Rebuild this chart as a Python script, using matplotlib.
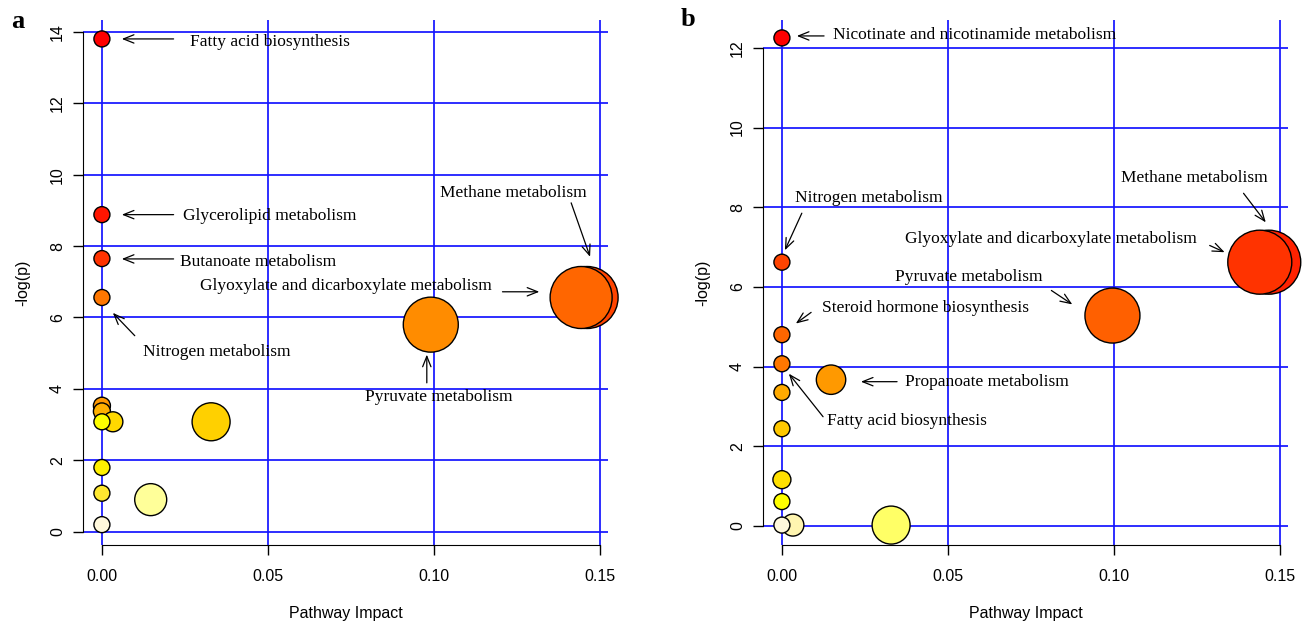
import matplotlib
matplotlib.use("Agg")
import matplotlib.pyplot as plt

# ---- data (panel a) ----
impact_a = [0, 0, 0, 0, 0.1462, 0.1444, 0.0991, 0, 0, 0.0033, 0, 0.0329, 0, 0, 0.0147, 0]
logp_a = [13.80, 8.88, 7.65, 6.56, 6.56, 6.56, 5.80, 3.53, 3.37, 3.08, 3.08, 3.08, 1.80, 1.08, 0.90, 0.20]
radius_a = [8, 8, 8, 8, 31, 31, 27.5, 8.5, 8.5, 10, 8, 19, 8, 8, 16, 8]
colors_a = ["#FF0000", "#FF1500", "#FF3300", "#FF7700", "#FF4400", "#FF6600", "#FF8C00",
            "#FF9900", "#FFB000", "#FFD800", "#FFFF00", "#FFD000", "#FFF000", "#FFE830",
            "#FFFF99", "#FFF8DC"]

# ---- data (panel b) ----
impact_b = [0, 0, 0.1467, 0.1440, 0.0996, 0, 0, 0.0148, 0, 0, 0, 0, 0.0033, 0, 0.0329]
logp_b = [12.25, 6.62, 6.62, 6.62, 5.28, 4.80, 4.07, 3.67, 3.35, 2.44, 1.16, 0.61, 0.02, 0.02, 0.02]
radius_b = [8, 8, 32, 32, 27.5, 8, 8, 14.7, 8, 8, 9, 8, 11, 8, 19]
colors_b = ["#FF0000", "#FF4400", "#FF2200", "#FF3300", "#FF6000", "#FF6600", "#FF7700",
            "#FF9900", "#FFAA00", "#FFC800", "#FFE000", "#FFFF00", "#FFF5B0", "#FFF8DC",
            "#FFFF66"]

# labels: text, (text x, y), ha, arrow tail, arrow head
labels_a = [
    ("Fatty acid biosynthesis", (0.0264, 13.72), "left", (0.0216, 13.80), (0.0060, 13.80)),
    ("Glycerolipid metabolism", (0.0243, 8.85), "left", (0.0216, 8.88), (0.0060, 8.88)),
    ("Butanoate metabolism", (0.0234, 7.56), "left", (0.0216, 7.64), (0.0060, 7.64)),
    ("Nitrogen metabolism", (0.0123, 5.04), "left", (0.0099, 5.49), (0.0033, 6.13)),
    ("Glyoxylate and dicarboxylate metabolism", (0.1174, 6.89), "right", (0.1207, 6.72), (0.1318, 6.72)),
    ("Methane metabolism", (0.1240, 9.49), "center", (0.1414, 9.21), (0.1471, 7.70)),
    ("Pyruvate metabolism", (0.1015, 3.78), "center", (0.0979, 4.17), (0.0979, 4.96)),
]
labels_b = [
    ("Nicotinate and nicotinamide metabolism", (0.0154, 12.33), "left", (0.0127, 12.30), (0.0045, 12.30)),
    ("Nitrogen metabolism", (0.0039, 8.23), "left", (0.0060, 7.85), (0.0009, 6.92)),
    ("Glyoxylate and dicarboxylate metabolism", (0.1250, 7.20), "right", (0.1289, 7.04), (0.1334, 6.87)),
    ("Pyruvate metabolism", (0.0785, 6.26), "right", (0.0812, 5.91), (0.0875, 5.56)),
    ("Steroid hormone biosynthesis", (0.0121, 5.48), "left", (0.0088, 5.36), (0.0042, 5.08)),
    ("Propanoate metabolism", (0.0371, 3.60), "left", (0.0347, 3.62), (0.0238, 3.62)),
    ("Fatty acid biosynthesis", (0.0136, 2.64), "left", (0.0124, 2.74), (0.0021, 3.82)),
    ("Methane metabolism", (0.1244, 8.73), "center", (0.1391, 8.35), (0.1458, 7.62)),
]

SANS = ["Liberation Sans", "DejaVu Sans"]
SERIF = ["Liberation Serif", "DejaVu Serif"]

fig = plt.figure(figsize=(13.04, 6.25), dpi=100)


def draw_panel(rect, x, y, r, c, labels, ylim, yticks, tag, tag_xy):
    ax = fig.add_axes(rect)
    ax.set_xlim(-0.0057, 0.1525)
    ax.set_ylim(*ylim)
    ax.set_xticks([0, 0.05, 0.10, 0.15])
    ax.set_xticklabels(["0.00", "0.05", "0.10", "0.15"])
    ax.set_yticks(yticks)
    ax.set_yticklabels([str(t) for t in yticks], rotation=90, va="center")
    # blue grid at the tick positions
    for t in [0, 0.05, 0.10, 0.15]:
        ax.axvline(t, color="#1414FF", lw=1.25, zorder=1)
    for t in yticks:
        ax.axhline(t, color="#1414FF", lw=1.25, zorder=1)
    sizes = [(1.44 * v) ** 2 for v in r]
    ax.scatter(x, y, s=sizes, c=c, edgecolors="black", linewidths=1.0, zorder=3,
               clip_on=False)
    for text, txy, ha, tail, head in labels:
        ax.text(txy[0], txy[1], text, ha=ha, va="center", fontsize=12.5,
                family=SERIF, zorder=4)
        ax.annotate("", xy=head, xytext=tail,
                    arrowprops=dict(arrowstyle="->,head_length=0.75,head_width=0.3",
                                    color="black", lw=0.9, shrinkA=0, shrinkB=0),
                    zorder=4)
    for s in ["top", "right"]:
        ax.spines[s].set_visible(False)
    ax.spines["left"].set_bounds(yticks[0], yticks[-1])
    ax.spines["bottom"].set_bounds(0, 0.15)
    ax.tick_params(axis="both", direction="out", length=7, width=1, labelsize=11.5)
    ax.tick_params(axis="x", pad=10)
    ax.tick_params(axis="y", pad=6)
    for lab in ax.get_xticklabels() + ax.get_yticklabels():
        lab.set_family(SANS)
    ax.set_xlabel("Pathway Impact", fontsize=11.5, family=SANS, labelpad=16)
    ax.set_ylabel("-log(p)", fontsize=11.5, family=SANS, labelpad=14)
    ax.set_facecolor("white")
    fig.text(tag_xy[0], tag_xy[1], tag, fontsize=19, fontweight="bold",
             family=SERIF, ha="center", va="center")
    return ax


draw_panel([83 / 1304, 80 / 625, 525 / 1304, 525 / 625], impact_a, logp_a, radius_a,
           colors_a, labels_a, (-0.37, 14.33), list(range(0, 15, 2)), "a",
           (18 / 1304, 1 - 22 / 625))
draw_panel([763 / 1304, 80 / 625, 525 / 1304, 525 / 625], impact_b, logp_b, radius_b,
           colors_b, labels_b, (-0.48, 12.70), list(range(0, 13, 2)), "b",
           (688 / 1304, 1 - 20 / 625))

fig.savefig("out.png", dpi=100)
